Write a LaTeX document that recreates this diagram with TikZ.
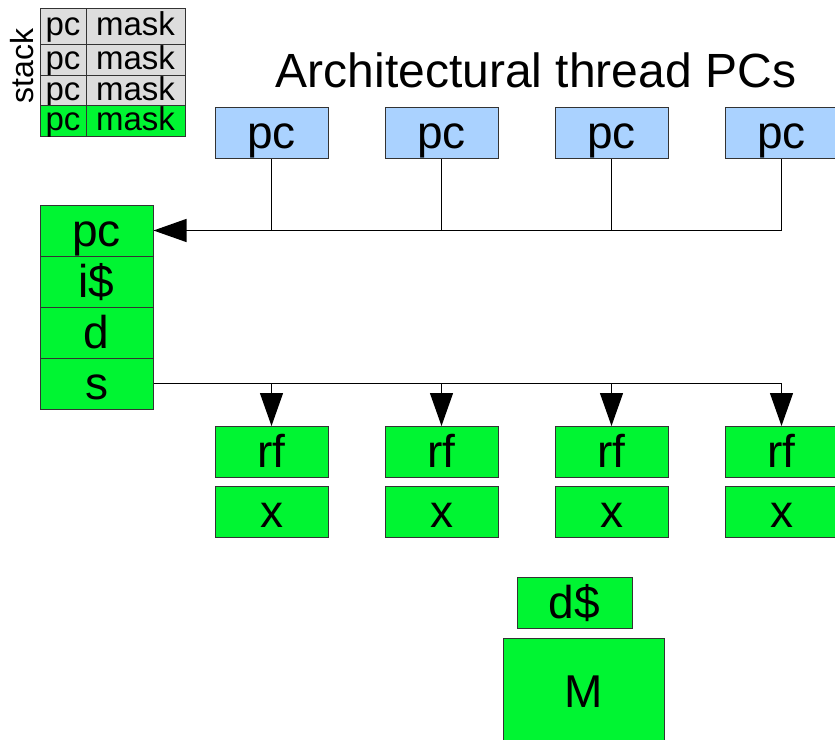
\documentclass[tikz,border=0pt]{standalone}
\usepackage{fontspec}
\setmainfont{Liberation Sans}
\usetikzlibrary{arrows.meta}
\definecolor{boxgreen}{RGB}{0,245,50}
\definecolor{pcblue}{RGB}{170,210,255}
\definecolor{stackgray}{RGB}{221,221,221}
\definecolor{edgegray}{RGB}{51,51,51}
\begin{document}
\begin{tikzpicture}[x=1pt,y=-1pt,
  unit/.style={draw=edgegray, line width=1pt, inner sep=0pt,
    minimum width=113pt, minimum height=51pt,
    text height=41pt, text depth=9.5pt,
    font=\fontsize{46}{55}\selectfont},
  greenbox/.style={unit, fill=boxgreen},
  bluebox/.style={unit, fill=pcblue},
  cell/.style={draw=edgegray, line width=0.8pt, inner sep=0pt,
    text height=25pt, text depth=5.5pt,
    font=\fontsize{33}{39}\selectfont},
  wire/.style={draw=black, line width=1.2pt},
  feed/.style={wire, -{Triangle[length=33pt,width=23pt]}},
]
\useasboundingbox (0,0) rectangle (835,739);
\clip (0,0) rectangle (835,739);

% warp stack: pc / mask entries
\foreach \n/\y/\h/\c in {1/26/36/stackgray, 2/59.5/31/stackgray,
                         3/90.25/30.5/stackgray, 4/120.75/30.5/boxgreen} {
  \node[cell, fill=\c, minimum width=46pt, minimum height=\h pt] (sp\n) at (63,\y) {pc};
  \node[cell, fill=\c, minimum width=99pt, minimum height=\h pt] (sm\n) at (135.5,\y) {mask};
}
\node[rotate=90, anchor=base, font=\fontsize{32}{38}\selectfont] (stacklabel) at (33,66) {stack};

% title
\node[anchor=base, font=\fontsize{48}{57}\selectfont] (title) at (536,87) {Architectural thread PCs};

% per-thread PCs and lanes
\foreach \i/\x in {A/271.5, B/441.5, C/611.5, D/781.5} {
  \node[bluebox]  (pc\i) at (\x,133) {pc};
  \node[greenbox] (rf\i) at (\x,452) {rf};
  \node[greenbox] (ex\i) at (\x,512) {x};
}

% front end
\node[greenbox] (fetch)  at (96.5,230.5) {pc};
\node[greenbox] (icache) at (96.5,281.5) {i\$};
\node[greenbox] (decode) at (96.5,332.5) {d};
\node[greenbox] (sched)  at (96.5,383.5) {s};

% memory
\node[greenbox, minimum width=115pt] (dcache) at (574.5,602.5) {d\$};
\node[greenbox, minimum width=161pt, minimum height=108pt] (mem) at (583.5,692) {M};

% PC selection
\draw[feed] (pcD.south) |- (fetch.east);
\foreach \i in {A,B,C}
  \draw[wire] (pc\i.south) -- (pc\i.south |- fetch.east);

% issue to lanes
\draw[feed] (sched.east) -| (rfD.north);
\foreach \i in {A,B,C}
  \draw[feed] (rf\i.north |- sched.east) -- (rf\i.north);
\end{tikzpicture}
\end{document}
